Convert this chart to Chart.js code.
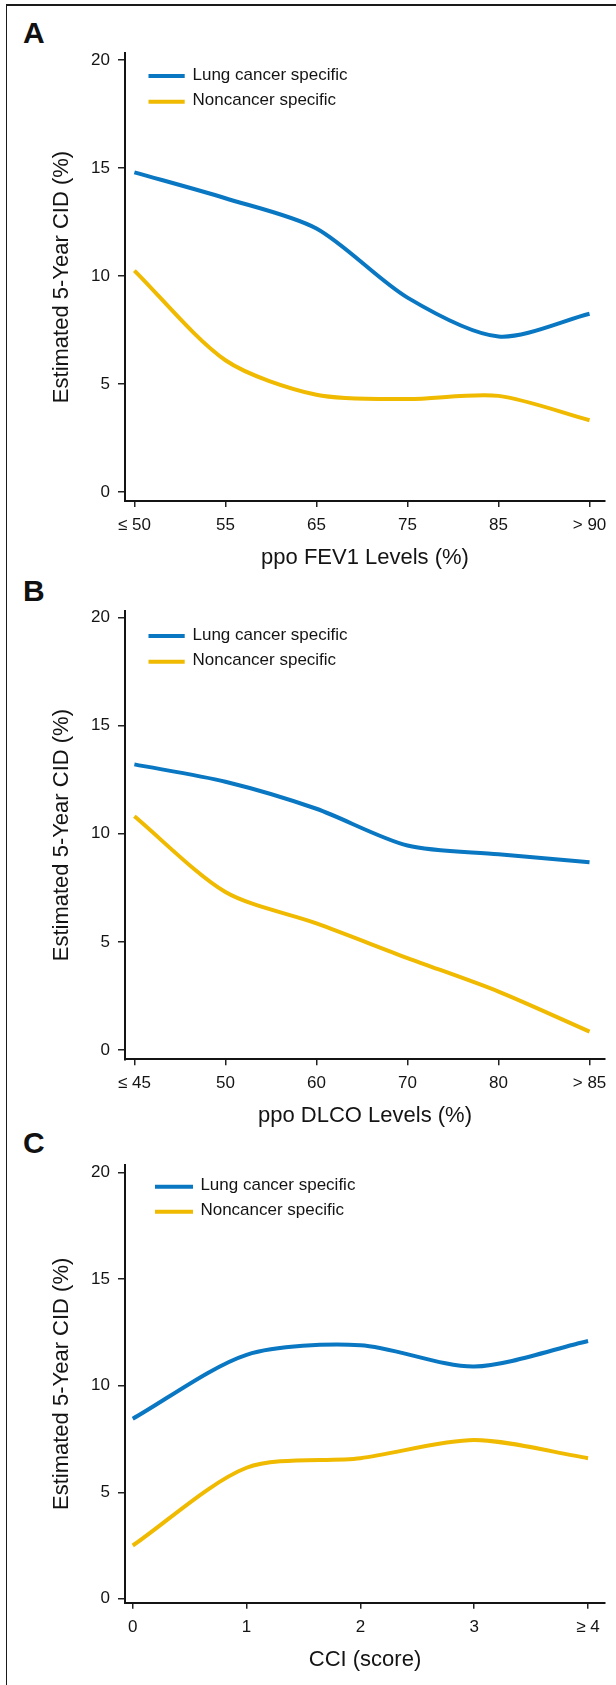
<!DOCTYPE html>
<html><head><meta charset="utf-8">
<script src="https://cdn.jsdelivr.net/npm/chart.js@4.4.1/dist/chart.umd.min.js"></script>
<style>
html,body{margin:0;padding:0;background:#fff;}
body{width:616px;height:1685px;position:relative;overflow:hidden;font-family:'Liberation Sans',Arial,sans-serif;}
.frame{position:absolute;left:6px;top:4px;width:620px;height:1700px;border-top:2px solid #1a1a1a;border-left:1.5px solid #1a1a1a;}
.lab{position:absolute;left:23px;font:bold 30px 'Liberation Sans',Arial,sans-serif;line-height:30px;color:#111;}
canvas{position:absolute;left:0;}
</style></head><body>
<div class="frame"></div>
<div class="lab" style="top:17.6px">A</div>
<div class="lab" style="top:575.6px">B</div>
<div class="lab" style="top:1127.6px">C</div>
<canvas id="cA" width="616" height="575" style="top:0px"></canvas>
<canvas id="cB" width="616" height="555" style="top:575px"></canvas>
<canvas id="cC" width="616" height="555" style="top:1130px"></canvas>
<script>
// ---- data ----
const seriesNames = ['Lung cancer specific', 'Noncancer specific'];
const yTickValues = [0, 5, 10, 15, 20];
const yTitle = 'Estimated 5-Year CID (%)';

const fev1Levels = ['≤ 50', '55', '65', '75', '85', '> 90'];
const fev1Lung = [14.8, 13.6, 12.2, 9.0, 7.2, 8.25];
const fev1Noncancer = [10.25, 6.1, 4.5, 4.3, 4.45, 3.32];

const dlcoLevels = ['≤ 45', '50', '60', '70', '80', '> 85'];
const dlcoLung = [13.2, 12.4, 11.15, 9.45, 9.05, 8.68];
const dlcoNoncancer = [10.8, 7.3, 5.85, 4.25, 2.7, 0.85];

const cciScores = ['0', '1', '2', '3', '≥ 4'];
const cciLung = [8.45, 11.45, 11.9, 10.9, 12.1];
const cciNoncancer = [2.5, 6.15, 6.6, 7.45, 6.6];

// ---- styling ----
const BLUE = '#0a77c2', GOLD = '#efba00', INK = '#141414';
const FONT = "'Liberation Sans', Arial, Helvetica, sans-serif";

const inlineLegend = {
  id: 'inlineLegend',
  afterDatasetsDraw(chart, args, opts) {
    const {ctx, chartArea} = chart;
    ctx.save();
    chart.data.datasets.forEach((ds, i) => {
      const y = chartArea.top + opts.y + i * opts.gap;
      ctx.strokeStyle = ds.borderColor;
      ctx.lineWidth = 4;
      ctx.lineCap = 'butt';
      ctx.beginPath();
      ctx.moveTo(chartArea.left + opts.x0, y);
      ctx.lineTo(chartArea.left + opts.x1, y);
      ctx.stroke();
      ctx.fillStyle = INK;
      ctx.font = '17px ' + FONT;
      ctx.textBaseline = 'middle';
      ctx.textAlign = 'left';
      ctx.fillText(ds.label, chartArea.left + opts.tx, y - 1);
    });
    ctx.restore();
  }
};

function makeChart(id, cats, lung, non, xTitle, g) {
  const pts = arr => arr.map((v, i) => ({x: i, y: v}));
  const ds = (label, arr, color) => ({
    label, data: pts(arr), borderColor: color, borderWidth: 4,
    pointRadius: 0, tension: 0.28, fill: false, borderJoinStyle: 'round'
  });
  return new Chart(document.getElementById(id), {
    type: 'line',
    data: {datasets: [ds(seriesNames[0], lung, BLUE), ds(seriesNames[1], non, GOLD)]},
    options: {
      responsive: false, animation: false, events: [],
      layout: {padding: {left: 49, right: 11, top: g.padT, bottom: g.padB}},
      plugins: {legend: {display: false}, tooltip: {enabled: false}, inlineLegend: g.legend},
      scales: {
        x: {
          type: 'linear', min: g.xMin, max: g.xMax,
          afterBuildTicks: s => { s.ticks = cats.map((c, i) => ({value: i})); },
          afterFit: s => { s.height = 70; s.paddingLeft = 0; s.paddingRight = 0; },
          ticks: {callback: v => cats[v], font: {family: FONT, size: 17}, color: INK, padding: 8, maxRotation: 0, autoSkip: false},
          grid: {drawOnChartArea: false, drawTicks: true, tickLength: 6, color: '#222', lineWidth: 1.5},
          border: {display: true, color: INK, width: 2},
          title: {display: true, text: xTitle, font: {family: FONT, size: 22}, color: INK, padding: 0}
        },
        y: {
          min: g.yMin, max: g.yMax,
          afterBuildTicks: s => { s.ticks = yTickValues.map(v => ({value: v})); },
          afterFit: s => { s.width = 76; s.paddingTop = 0; s.paddingBottom = 0; },
          ticks: {callback: v => String(v), font: {family: FONT, size: 17}, color: INK, padding: 8, autoSkip: false},
          grid: {drawOnChartArea: false, drawTicks: true, tickLength: 7, color: '#222', lineWidth: 1.5},
          border: {display: true, color: INK, width: 2},
          title: {display: true, text: yTitle, font: {family: FONT, size: 22}, color: INK, padding: 0}
        }
      }
    },
    plugins: [inlineLegend]
  });
}

makeChart('cA', fev1Levels, fev1Lung, fev1Noncancer, 'ppo FEV1 Levels (%)', {
  padT: 53, padB: 4, xMin: -0.103, xMax: 5.17, yMin: -0.417, yMax: 20.324,
  legend: {x0: 23.5, x1: 59.7, tx: 67.5, y: 23, gap: 25.7}
});
makeChart('cB', dlcoLevels, dlcoLung, dlcoNoncancer, 'ppo DLCO Levels (%)', {
  padT: 36, padB: 0.7, xMin: -0.103, xMax: 5.17, yMin: -0.43, yMax: 20.29,
  legend: {x0: 23.5, x1: 59.7, tx: 67.5, y: 25, gap: 25.7}
});
makeChart('cC', cciScores, cciLung, cciNoncancer, 'CCI (score)', {
  padT: 35, padB: 12.3, xMin: -0.068, xMax: 4.149, yMin: -0.183, yMax: 20.357,
  legend: {x0: 30, x1: 68, tx: 75.4, y: 21.7, gap: 25}
});
</script>
</body></html>
